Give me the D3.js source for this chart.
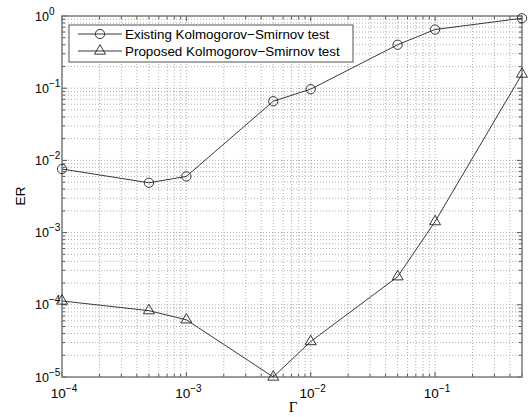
<!DOCTYPE html>
<meta charset="utf-8">
<style>
  body { margin: 0; background: #fff; }
  svg { position: absolute; top: 0; left: 0; }
  text { font-family: 'Liberation Sans', Arial, sans-serif; fill: #000; }
  .grid line { stroke: #9a9a9a; stroke-width: 0.8px; stroke-dasharray: 1,2; }
  .frame { fill: none; stroke: #7a7a7a; stroke-width: 1.5px; }
  .tick { stroke: #555; stroke-width: 1px; }
  .series { fill: none; stroke: #222; stroke-width: 0.9px; }
  .marker { fill: none; stroke: #222; stroke-width: 0.9px; }
</style>
<script src="https://d3js.org/d3.v7.min.js"></script>

<svg width="530" height="417"></svg>

<script>
  // data
  var gammaValues = [1e-4, 5e-4, 1e-3, 5e-3, 1e-2, 5e-2, 1e-1, 5e-1];
  var existingER = [0.0076, 0.0049, 0.006, 0.066, 0.097, 0.40, 0.65, 0.93];
  var proposedER = [1.13e-4, 8.3e-5, 6.2e-5, 1.0e-5, 3.1e-5, 2.45e-4, 1.42e-3, 0.157];
  var seriesNames = ["Existing Kolmogorov\u2212Smirnov test", "Proposed Kolmogorov\u2212Smirnov test"];
  var xTickExps = [-4, -3, -2, -1];
  var yTickExps = [-5, -4, -3, -2, -1, 0];

  var svg = d3.select("svg"),
      plotL = 62, plotR = 522, plotT = 16, plotB = 377;

  var x = d3.scaleLog().domain([1e-4, 0.5]).range([plotL, plotR]);
  var y = d3.scaleLog().domain([1e-5, 1]).range([plotB, plotT]);

  var xAll = x.ticks(), yAll = y.ticks();
  function isMajor(v) { return Math.abs(Math.log10(v) - Math.round(Math.log10(v))) < 1e-9; }

  // dotted grid
  var grid = svg.append("g").attr("class", "grid");
  grid.selectAll(".gx").data(xAll.filter(function(v) { return x(v) > plotL + 1 && x(v) < plotR - 1; }))
    .enter().append("line")
    .attr("x1", function(d) { return x(d); }).attr("x2", function(d) { return x(d); })
    .attr("y1", plotT).attr("y2", plotB);
  grid.selectAll(".gy").data(yAll.filter(function(v) { return y(v) > plotT + 1 && y(v) < plotB - 1; }))
    .enter().append("line")
    .attr("y1", function(d) { return y(d); }).attr("y2", function(d) { return y(d); })
    .attr("x1", plotL).attr("x2", plotR);

  // inward ticks on all four sides
  var ticks = svg.append("g");
  xAll.forEach(function(v) {
    var len = isMajor(v) ? 5 : 3, px = x(v);
    ticks.append("line").attr("class", "tick").attr("x1", px).attr("x2", px).attr("y1", plotB).attr("y2", plotB - len);
    ticks.append("line").attr("class", "tick").attr("x1", px).attr("x2", px).attr("y1", plotT).attr("y2", plotT + len);
  });
  yAll.forEach(function(v) {
    var len = isMajor(v) ? 5 : 3, py = y(v);
    ticks.append("line").attr("class", "tick").attr("y1", py).attr("y2", py).attr("x1", plotL).attr("x2", plotL + len);
    ticks.append("line").attr("class", "tick").attr("y1", py).attr("y2", py).attr("x1", plotR).attr("x2", plotR - len);
  });

  svg.append("rect").attr("class", "frame")
    .attr("x", plotL).attr("y", plotT).attr("width", plotR - plotL).attr("height", plotB - plotT);

  // tick labels, 10 with superscript exponent
  function expLabel(g, e) {
    g.append("tspan").text("10");
    g.append("tspan").attr("dy", -6).style("font-size", "10px").text(e < 0 ? "\u2212" + (-e) : e);
  }
  xTickExps.forEach(function(e) {
    var t = svg.append("text").attr("x", x(Math.pow(10, e)) + 2).attr("y", 398)
      .attr("text-anchor", "middle").style("font-size", "13.5px");
    expLabel(t, e);
  });
  yTickExps.forEach(function(e) {
    var t = svg.append("text").attr("x", 35).attr("y", y(Math.pow(10, e)) + 4.5)
      .style("font-size", "12.5px");
    expLabel(t, e);
  });

  svg.append("text").attr("x", 293).attr("y", 412).attr("text-anchor", "middle")
    .style("font-family", "'Liberation Serif', serif").style("font-size", "15px").text("\u0393");
  svg.append("text").attr("transform", "translate(25,196) rotate(-90)").attr("text-anchor", "middle")
    .style("font-size", "13.5px").text("ER");

  // series
  var line = d3.line().x(function(d) { return x(d[0]); }).y(function(d) { return y(d[1]); });
  var existing = d3.zip(gammaValues, existingER), proposed = d3.zip(gammaValues, proposedER);

  svg.append("path").attr("class", "series").attr("d", line(existing));
  svg.append("path").attr("class", "series").attr("d", line(proposed));

  var circle = d3.symbol().type(d3.symbolCircle).size(68);
  var tri = d3.symbol().type(d3.symbolTriangle).size(52);

  svg.selectAll(".mc").data(existing).enter().append("path").attr("class", "marker")
    .attr("d", circle).attr("transform", function(d) { return "translate(" + x(d[0]) + "," + y(d[1]) + ")"; });
  svg.selectAll(".mt").data(proposed).enter().append("path").attr("class", "marker")
    .attr("d", tri).attr("transform", function(d) { return "translate(" + x(d[0]) + "," + y(d[1]) + ")"; });

  // legend
  var lg = svg.append("g");
  lg.append("rect").attr("x", 69).attr("y", 25).attr("width", 284).attr("height", 37)
    .attr("fill", "#fff").attr("stroke", "#555").attr("stroke-width", 1);
  [circle, tri].forEach(function(sym, i) {
    var ly = 34 + i * 17;
    lg.append("line").attr("class", "series").attr("x1", 78).attr("x2", 122).attr("y1", ly).attr("y2", ly);
    lg.append("path").attr("class", "marker").attr("d", sym).attr("fill", "#fff")
      .attr("transform", "translate(100," + ly + ")");
    lg.append("text").attr("x", 125).attr("y", ly + 5).style("font-size", "13.4px").text(seriesNames[i]);
  });
</script>
